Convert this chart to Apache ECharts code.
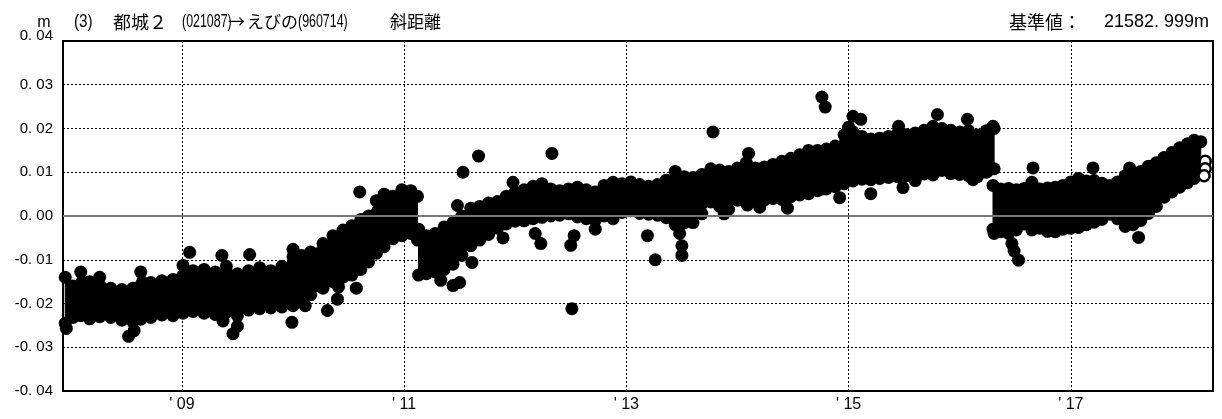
<!DOCTYPE html>
<html>
<head>
<meta charset="utf-8">
<script src="https://cdn.jsdelivr.net/npm/echarts@6/dist/echarts.min.js"></script>
<style>
html, body { margin: 0; padding: 0; background: #fff; }
#chart { width: 1222px; height: 419px; }
</style>
</head>
<body>
<div id="chart"></div>
<script>
// Year ticks on the time axis (decimal years)
const yearTicks = [2009, 2011, 2013, 2015, 2017];
const yearLabels = ["' 09", "' 11", "' 13", "' 15", "' 17"];

// Upper / lower edge of the daily solution cloud (m), before the 2011 offset
const preT = [2007.95, 2008.02, 2008.09, 2008.17, 2008.26, 2008.36, 2008.46, 2008.56, 2008.63, 2008.72,
              2008.82, 2008.92, 2009.01, 2009.10, 2009.20, 2009.30, 2009.40, 2009.50, 2009.60, 2009.70,
              2009.80, 2009.90, 2010.00, 2010.08, 2010.16, 2010.27, 2010.36, 2010.45, 2010.53, 2010.61,
              2010.68, 2010.75, 2010.82, 2010.90, 2010.98, 2011.06, 2011.12];
const preTop = [-0.0140, -0.0160, -0.0128, -0.0150, -0.0140, -0.0165, -0.0168, -0.0165, -0.0128, -0.0152,
                -0.0148, -0.0145, -0.0113, -0.0125, -0.0122, -0.0128, -0.0115, -0.0132, -0.0125, -0.0118,
                -0.0125, -0.0115, -0.0093, -0.0090, -0.0082, -0.0063, -0.0045, -0.0032, -0.0022, -0.0008,
                0.0000, 0.0035, 0.0050, 0.0045, 0.0060, 0.0058, 0.0045];
const preBot = [-0.0245, -0.0232, -0.0228, -0.0235, -0.0230, -0.0232, -0.0238, -0.0242, -0.0236, -0.0232,
                -0.0226, -0.0228, -0.0222, -0.0218, -0.0222, -0.0225, -0.0220, -0.0228, -0.0215, -0.0212,
                -0.0210, -0.0208, -0.0205, -0.0195, -0.0180, -0.0165, -0.0150, -0.0140, -0.0135, -0.0122,
                -0.0105, -0.0085, -0.0070, -0.0052, -0.0045, -0.0040, -0.0055];

// Between the 2011 and 2016 offsets
const midT = [2011.13, 2011.20, 2011.28, 2011.36, 2011.44, 2011.52, 2011.60, 2011.68, 2011.76, 2011.84,
              2011.92, 2012.00, 2012.08, 2012.16, 2012.24, 2012.32, 2012.40, 2012.48, 2012.56, 2012.64,
              2012.72, 2012.80, 2012.88, 2012.96, 2013.04, 2013.12, 2013.20, 2013.28, 2013.36, 2013.44,
              2013.52, 2013.60, 2013.68, 2013.76, 2013.84, 2013.92, 2014.00, 2014.08, 2014.16, 2014.24,
              2014.32, 2014.40, 2014.48, 2014.56, 2014.64, 2014.72, 2014.80, 2014.88, 2014.96, 2015.04,
              2015.12, 2015.20, 2015.28, 2015.36, 2015.44, 2015.52, 2015.60, 2015.68, 2015.76, 2015.84,
              2015.92, 2016.00, 2016.08, 2016.16, 2016.24, 2016.31];
const midTop = [-0.0030, -0.0045, -0.0040, -0.0025, -0.0015, 0.0000, 0.0018, 0.0022, 0.0030, 0.0033,
                0.0045, 0.0055, 0.0060, 0.0068, 0.0074, 0.0062, 0.0058, 0.0062, 0.0066, 0.0060,
                0.0055, 0.0070, 0.0077, 0.0074, 0.0078, 0.0072, 0.0068, 0.0072, 0.0082, 0.0102,
                0.0090, 0.0088, 0.0095, 0.0108, 0.0105, 0.0102, 0.0110, 0.0122, 0.0110, 0.0112,
                0.0118, 0.0125, 0.0132, 0.0140, 0.0150, 0.0150, 0.0153, 0.0160, 0.0185, 0.0192,
                0.0182, 0.0176, 0.0178, 0.0182, 0.0188, 0.0186, 0.0190, 0.0196, 0.0205, 0.0200,
                0.0196, 0.0192, 0.0195, 0.0185, 0.0195, 0.0200];
const midBot = [-0.0135, -0.0132, -0.0128, -0.0122, -0.0110, -0.0090, -0.0068, -0.0055, -0.0042, -0.0028,
                -0.0018, -0.0012, -0.0011, -0.0006, -0.0003, 0.0000, 0.0002, 0.0005, -0.0002, -0.0006,
                -0.0010, 0.0000, -0.0006, 0.0008, 0.0012, 0.0006, 0.0004, 0.0002, -0.0004, -0.0020,
                -0.0016, -0.0015, 0.0005, 0.0032, 0.0022, 0.0015, 0.0036, 0.0030, 0.0034, 0.0036,
                0.0040, 0.0038, 0.0044, 0.0048, 0.0051, 0.0058, 0.0062, 0.0067, 0.0074, 0.0080,
                0.0084, 0.0083, 0.0086, 0.0088, 0.0090, 0.0092, 0.0094, 0.0096, 0.0100, 0.0104,
                0.0097, 0.0095, 0.0092, 0.0090, 0.0100, 0.0108];

// After the 2016 offset
const postT = [2016.30, 2016.37, 2016.44, 2016.51, 2016.58, 2016.65, 2016.72, 2016.79, 2016.86, 2016.93,
               2017.00, 2017.07, 2017.14, 2017.21, 2017.28, 2017.35, 2017.42, 2017.49, 2017.56, 2017.63,
               2017.70, 2017.77, 2017.84, 2017.91, 2017.98, 2018.05, 2018.11, 2018.17];
const postTop = [0.0070, 0.0062, 0.0063, 0.0060, 0.0063, 0.0077, 0.0062, 0.0064, 0.0066, 0.0070,
                 0.0078, 0.0086, 0.0080, 0.0081, 0.0075, 0.0070, 0.0078, 0.0092, 0.0098, 0.0102,
                 0.0114, 0.0122, 0.0134, 0.0145, 0.0156, 0.0165, 0.0173, 0.0170];
const postBot = [-0.0030, -0.0036, -0.0040, -0.0032, -0.0018, -0.0032, -0.0028, -0.0035, -0.0036, -0.0030,
                 -0.0028, -0.0026, -0.0020, -0.0014, -0.0008, 0.0004, -0.0006, -0.0024, -0.0020, -0.0010,
                 0.0006, 0.0022, 0.0043, 0.0055, 0.0066, 0.0076, 0.0086, 0.0095];

// Isolated solutions away from the main cloud [year, m]
const stray = [
  [2007.96, -0.0257], [2008.52, -0.0275], [2008.57, -0.0262], [2009.07, -0.0083], [2009.36, -0.0090],
  [2009.61, -0.0088], [2009.37, -0.0240], [2009.46, -0.0269], [2009.50, -0.0252], [2009.99, -0.0243],
  [2010.00, -0.0076], [2010.11, -0.0205], [2010.31, -0.0216], [2010.40, -0.0190], [2010.41, -0.0162],
  [2010.60, 0.0055], [2010.57, -0.0165],
  [2011.33, -0.0147], [2011.44, -0.0159], [2011.50, -0.0152], [2011.48, 0.0024], [2011.53, 0.0100],
  [2011.67, 0.0137], [2011.61, -0.0106], [2011.89, -0.0050], [2011.98, 0.0077],
  [2012.18, -0.0040], [2012.23, -0.0063], [2012.33, 0.0143], [2012.50, -0.0067], [2012.53, -0.0045],
  [2012.51, -0.0212], [2012.72, -0.0030],
  [2013.19, -0.0045], [2013.26, -0.0100], [2013.48, -0.0040], [2013.50, -0.0068], [2013.50, -0.0090],
  [2013.78, 0.0192], [2013.88, 0.0005],
  [2014.10, 0.0143], [2014.09, 0.0025], [2014.20, 0.0020], [2014.45, 0.0018], [2014.76, 0.0272],
  [2014.79, 0.0249], [2014.76, 0.0062], [2014.92, 0.0042],
  [2015.00, 0.0203], [2015.04, 0.0228], [2015.11, 0.0221], [2015.20, 0.0051], [2015.45, 0.0205],
  [2015.49, 0.0065], [2015.60, 0.0081], [2015.76, 0.0094], [2015.80, 0.0232], [2016.07, 0.0221],
  [2016.12, 0.0083], [2016.25, 0.0102], [2016.30, 0.0205],
  [2016.31, -0.0040], [2016.47, -0.0063], [2016.49, -0.0080], [2016.53, -0.0101], [2016.66, 0.0110],
  [2017.20, 0.0110], [2017.53, 0.0110], [2017.61, -0.0049]
];

// Latest (provisional) solutions, drawn hollow
const latest = [[2018.21, 0.0125], [2018.21, 0.0108], [2018.20, 0.0092]];

const segments = [[preT, preTop, preBot], [midT, midTop, midBot], [postT, postTop, postBot]];

// Edge points of each segment become ordinary scatter marks
const edgePoints = [];
segments.forEach(([t, top, bot]) => {
  t.forEach((x, i) => {
    edgePoints.push([x, top[i]]);
    edgePoints.push([x, bot[i]]);
  });
});
const solidPoints = edgePoints.concat(stray);

const LATIN = "'Liberation Sans', Arial, sans-serif";
const CJK = "'Noto Sans CJK JP', sans-serif";

// text helper; sx squeezes latin runs horizontally into a condensed face
function txt(x, y, text, font, align, sx) {
  return {
    type: 'text', x: x, y: y, scaleX: sx || 1, silent: true,
    style: { text: text, font: font, fill: '#000',
             textAlign: align || 'left', align: align || 'left',
             textVerticalAlign: 'middle', verticalAlign: 'middle' }
  };
}

const chart = echarts.init(document.getElementById('chart'), null, { renderer: 'canvas' });

chart.setOption({
  animation: false,
  backgroundColor: '#fff',
  grid: { left: 63, right: 9, top: 41, bottom: 28, show: true, borderColor: '#000', borderWidth: 2, backgroundColor: 'transparent' },
  xAxis: {
    type: 'value', min: 2007.93, max: 2018.28,
    axisLine: { show: false }, axisTick: { show: false }, splitLine: { show: false },
    axisLabel: {
      customValues: yearTicks, color: '#000', fontSize: 16, fontFamily: LATIN, margin: 6,
      formatter: v => yearLabels[yearTicks.indexOf(Math.round(v))] || ''
    }
  },
  yAxis: {
    type: 'value', min: -0.04, max: 0.04, interval: 0.01,
    axisLine: { show: false }, axisTick: { show: false },
    splitLine: { show: true, lineStyle: { color: '#000', width: 1, type: [2, 2] } },
    axisLabel: {
      color: '#000', fontSize: 15, fontFamily: LATIN, margin: 10, lineHeight: 10,
      verticalAlignMaxLabel: 'bottom',
      formatter: v => {
        const r = Math.round(v * 100);
        const s = (Math.abs(r) / 100).toFixed(2).replace('.', '. ');
        return (r < 0 ? '-' : '') + s;
      }
    }
  },
  graphic: [
    txt(44, 23, 'm', '16px ' + LATIN, 'center'),
    txt(74, 22, '(3)', '18px ' + LATIN, 'left', 0.85),
    txt(113, 22, '都城２', '18px ' + CJK),
    txt(182, 22, '(021087)', '18px ' + LATIN, 'left', 0.69),
    txt(228, 22, '→', '17px ' + CJK),
    txt(247, 22, 'えびの', '17px ' + CJK),
    txt(298, 22, '(960714)', '18px ' + LATIN, 'left', 0.69),
    txt(390, 22, '斜距離', '17px ' + CJK),
    txt(1009, 22, '基準値：', '18px ' + CJK),
    txt(1209, 22, '21582. 999m', '18px ' + LATIN, 'right')
  ],
  series: [
    {
      // reference lines: odd-year verticals and the zero level
      type: 'line', data: [], z: 1, silent: true,
      markLine: {
        silent: true, symbol: 'none', label: { show: false }, animation: false,
        data: yearTicks.map(y => ({ xAxis: y, lineStyle: { color: '#000', width: 1, type: [2, 2] } }))
          .concat([{ yAxis: 0, lineStyle: { color: '#777', width: 2, type: 'solid' } }])
      }
    },
    {
      // filled body of the solution cloud
      type: 'custom', z: 2, silent: true, clip: true,
      data: [[2010, 0, 0], [2013, 0, 1], [2017, 0, 2]],
      renderItem: (params, api) => {
        const [t, top, bot] = segments[api.value(2)];
        const pts = [];
        for (let i = 0; i < t.length; i++) pts.push(api.coord([t[i], top[i]]));
        for (let i = t.length - 1; i >= 0; i--) pts.push(api.coord([t[i], bot[i]]));
        return { type: 'polygon', shape: { points: pts },
                 style: { fill: '#000', stroke: '#000', lineWidth: 1, opacity: 1 } };
      }
    },
    {
      type: 'scatter', z: 3, silent: true, symbol: 'circle', symbolSize: 13,
      itemStyle: { color: '#000', opacity: 1 }, data: solidPoints
    },
    {
      type: 'scatter', z: 4, silent: true, symbol: 'circle', symbolSize: 11,
      itemStyle: { color: '#fff', borderColor: '#000', borderWidth: 2.5, opacity: 1 }, data: latest
    }
  ]
});
</script>
</body>
</html>
